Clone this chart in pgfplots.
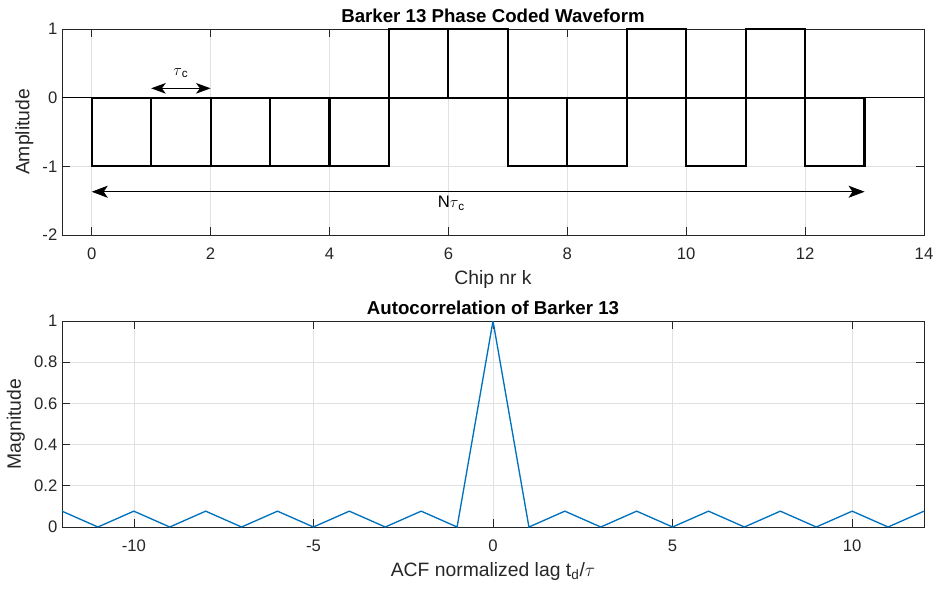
\documentclass[border=0pt]{standalone}
\usepackage{pgfplots}
\pgfplotsset{compat=1.18}
\usepackage{fontspec}
\setmainfont{Liberation Sans}
\usetikzlibrary{arrows.meta}
\definecolor{axisgray}{RGB}{38,38,38}
\definecolor{gridgray}{RGB}{225,225,225}
\definecolor{mblue}{RGB}{0,114,189}
\pgfplotsset{
  mystyle/.style={
    scale only axis, width=646.5pt, height=154.5pt,
    axis line style={axisgray, line width=0.5pt},
    every tick/.style={axisgray, line width=0.5pt},
    major tick length=6pt,
    tick align=inside, xtick pos=both, ytick pos=both,
    grid=major, major grid style={gridgray, line width=0.5pt},
    ticklabel style={font=\fontsize{12.5}{14}\selectfont, text=axisgray},
    xticklabel style={yshift=-6pt},
    label style={font=\fontsize{14.5}{16}\selectfont, text=axisgray},
    xlabel style={yshift=-1pt},
    title style={font=\bfseries\fontsize{14}{16}\selectfont, text=black, yshift=-5pt},
    /pgf/number format/assume math mode=true,
    unbounded coords=jump,
  }
}
\begin{document}
\begin{tikzpicture}
\useasboundingbox (-46.5pt,-265.5pt) rectangle (657pt,176.25pt);
\begin{axis}[mystyle,
  xmin=-0.5, xmax=14, ymin=-2, ymax=1,
  xtick={0,2,...,14}, ytick={-2,-1,0,1},
  title={Barker 13 Phase Coded Waveform},
  xlabel={Chip nr k}, ylabel={Amplitude},
]
\addplot[black, line width=0.6pt] coordinates {(-0.5,0) (14,0)};
% one closed rectangle per chip: chip values -1 -1 -1 -1 -1 +1 +1 -1 -1 +1 -1 +1 -1
\addplot[black, line width=1.6pt, line join=miter, line cap=rect] coordinates {
 (0,0)(0,-1)(1,-1)(1,0)(0,0) (0,nan)
 (1,0)(1,-1)(2,-1)(2,0)(1,0) (1,nan)
 (2,0)(2,-1)(3,-1)(3,0)(2,0) (2,nan)
 (3,0)(3,-1)(4,-1)(4,0)(3,0) (3,nan)
 (4,0)(4,-1)(5,-1)(5,0)(4,0) (4,nan)
 (5,0)(5,1)(6,1)(6,0)(5,0) (5,nan)
 (6,0)(6,1)(7,1)(7,0)(6,0) (6,nan)
 (7,0)(7,-1)(8,-1)(8,0)(7,0) (7,nan)
 (8,0)(8,-1)(9,-1)(9,0)(8,0) (8,nan)
 (9,0)(9,1)(10,1)(10,0)(9,0) (9,nan)
 (10,0)(10,-1)(11,-1)(11,0)(10,0) (10,nan)
 (11,0)(11,1)(12,1)(12,0)(11,0) (11,nan)
 (12,0)(12,-1)(13,-1)(13,0)(12,0)};
\draw[black, line width=0.6pt, {Stealth[length=11pt,width=8pt,inset=3pt]}-{Stealth[length=11pt,width=8pt,inset=3pt]}]
  (axis cs:1,0.136) -- (axis cs:2,0.136);
\node[text=black, font=\fontsize{12.5}{14}\selectfont] at (axis cs:1.5,0.36) {$\tau$\textsubscript{c}};
\draw[black, line width=0.6pt, {Stealth[length=12pt,width=9pt,inset=3pt]}-{Stealth[length=12pt,width=9pt,inset=3pt]}]
  (axis cs:0,-1.37) -- (axis cs:13,-1.37);
\node[text=black, font=\fontsize{12.5}{14}\selectfont] at (axis cs:6.05,-1.54) {N$\tau$\textsubscript{c}};
\end{axis}
\begin{axis}[mystyle, at={(0,-219pt)},
  xmin=-12, xmax=12, ymin=0, ymax=1,
  xtick={-10,-5,0,5,10}, ytick={0,0.2,0.4,0.6,0.8,1},
  title={Autocorrelation of Barker 13},
  xlabel={ACF normalized lag t\textsubscript{d}/$\tau$}, ylabel={Magnitude},
]
\addplot[mblue, line width=1pt] coordinates {
 (-12,0.0769)(-11,0)(-10,0.0769)(-9,0)(-8,0.0769)(-7,0)(-6,0.0769)(-5,0)(-4,0.0769)(-3,0)(-2,0.0769)(-1,0)
 (0,1)
 (1,0)(2,0.0769)(3,0)(4,0.0769)(5,0)(6,0.0769)(7,0)(8,0.0769)(9,0)(10,0.0769)(11,0)(12,0.0769)};
\end{axis}
\end{tikzpicture}
\end{document}
